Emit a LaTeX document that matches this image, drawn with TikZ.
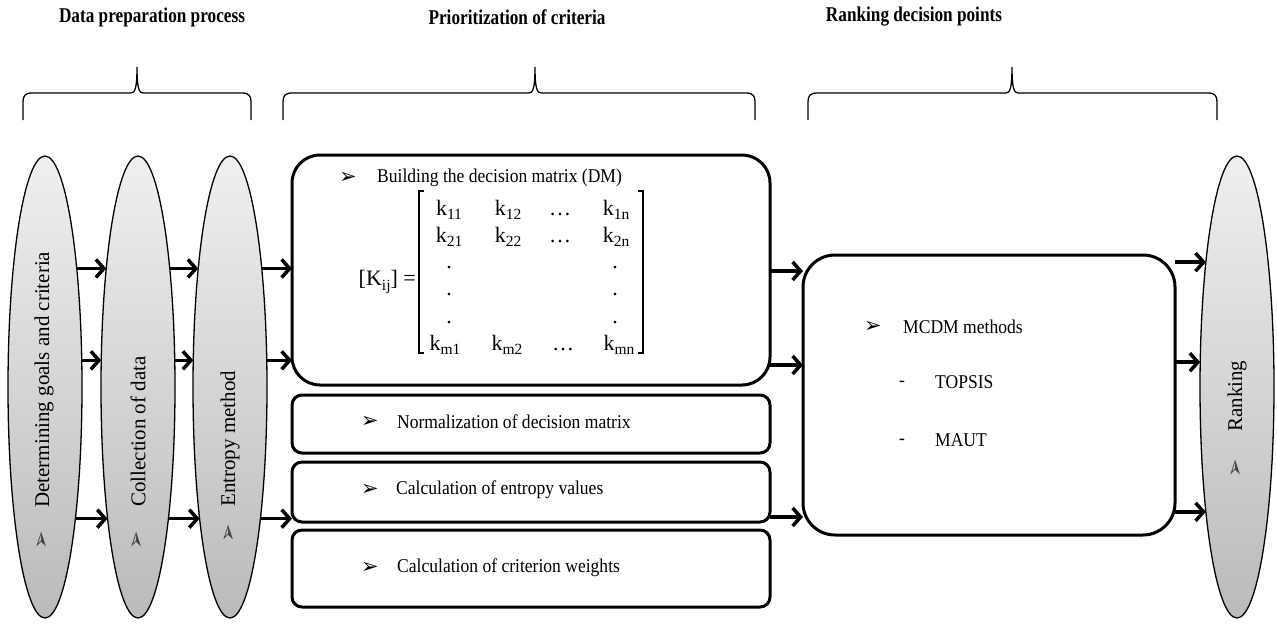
\documentclass[tikz,border=0pt]{standalone}
\usepackage{fontspec}
\setmainfont{Liberation Serif}[FakeStretch=0.9]
\newfontfamily\titlefont{Liberation Serif}[FakeStretch=0.82]
\newfontfamily\rotfont{Liberation Serif}
\newfontfamily\symfont{DejaVu Sans}
\usetikzlibrary{shapes.geometric,arrows.meta}
\newcommand\bracedraw[3]{%
  \draw[brc] (#1,120) -- (#1,102) .. controls (#1,96) and (#1+2,93) .. (#1+9,93)
    -- (#2-6,93) .. controls (#2-2,93) and (#2,88) .. (#2,67)
    .. controls (#2,88) and (#2+2,93) .. (#2+6,93)
    -- (#3-9,93) .. controls (#3-2,93) and (#3,96) .. (#3,102) -- (#3,120);}
\newcommand\ksb[2]{#1\raisebox{-4.5pt}{\fontsize{15.5}{17}\selectfont #2}}
\begin{document}
\begin{tikzpicture}[x=1pt,y=-1pt,
  ttl/.style={font=\titlefont\bfseries\fontsize{21}{24}\selectfont, inner sep=0pt},
  txt/.style={font=\fontsize{19.5}{23}\selectfont, inner sep=0pt, anchor=west},
  ent/.style={font=\rotfont\fontsize{22}{26}\selectfont, inner sep=0pt},
  bul/.style={font=\symfont\fontsize{21}{23}\selectfont, inner sep=0pt},
  ebul/.style={font=\symfont\fontsize{22}{24}\selectfont, inner sep=0pt, rotate=90, text=black!75},
  rot/.style={font=\rotfont\fontsize{21}{24}\selectfont, inner sep=0pt, rotate=90, anchor=west},
  oval/.style={ellipse, draw=black, line width=1.3pt, minimum width=74pt, minimum height=462pt,
    inner sep=0pt, outer sep=0pt, top color=black!6, bottom color=black!27},
  box/.style={draw=black, line width=3pt, inner sep=0pt, outer sep=0pt},
  arr/.style={line width=3.5pt, -{Straight Barb[length=8pt,width=18pt]}},
  brc/.style={line width=1.3pt},
  brk/.style={line width=1.5pt}]
\useasboundingbox (0,0) rectangle (1277,626);

% titles
\node[ttl] (T1) at (152,17) {Data preparation process};
\node[ttl] (T2) at (517,17) {Prioritization of criteria};
\node[ttl] (T3) at (914,17) {Ranking decision points};

% braces
\bracedraw{23}{137}{251}
\bracedraw{283}{535}{755}
\bracedraw{808}{1012}{1217}

% ellipses
\node[oval] (E1) at (45,387) {};
\node[oval] (E2) at (138,387) {};
\node[oval] (E3) at (230,387) {};
\node[oval] (R) at (1237,387) {};
\node[rot] (L1) at (44,508) {Determining goals and criteria};
\node[rot] (L2) at (138,507) {Collection of data};
\node[rot] (L3) at (230,507) {Entropy method};
\node[rot] (L4) at (1237,432) {Ranking};
\node[ebul] (a1) at (43,540) {➢};
\node[ebul] (a2) at (138,540) {➢};
\node[ebul] (a3) at (230,533) {➢};
\node[ebul] (a4) at (1237,468) {➢};

% middle boxes
\node[box, rounded corners=28pt, minimum width=478pt, minimum height=230pt] (B1) at (531,270) {};
\node[box, rounded corners=10pt, minimum width=478pt, minimum height=58pt] (B2) at (531,424) {};
\node[box, rounded corners=10pt, minimum width=478pt, minimum height=60pt] (B3) at (531,492) {};
\node[box, rounded corners=10pt, minimum width=478pt, minimum height=77pt] (B4) at (531,568.5) {};
\node[box, rounded corners=32pt, minimum width=372pt, minimum height=280pt] (M) at (989,395) {};

% box texts
\node[bul] (k0) at (348,178) {➢};
\node[txt] (t0) at (377,178) {Building the decision matrix (DM)};
\node[bul] (k1) at (370,422) {➢};
\node[txt] (t1) at (397,422) {Normalization of decision matrix};
\node[bul] (k2) at (370,490) {➢};
\node[txt] (t2) at (396,490) {Calculation of entropy values};
\node[bul] (k3) at (370,568) {➢};
\node[txt] (t3) at (397,568) {Calculation of criterion weights};
\node[bul] (k4) at (873,327) {➢};
\node[txt] (t4) at (903,327) {MCDM methods};
\node[txt] (d1) at (899,384) {-};
\node[txt] (t5) at (935,382) {TOPSIS};
\node[txt] (d2) at (899,442) {-};
\node[txt] (t6) at (935,440) {MAUT};

% matrix
\node[ent, anchor=east] (K) at (416,282) {[\ksb{K}{ij}] =};
\draw[brk] (424,191) -- (419,191) -- (419,353) -- (424,353);
\draw[brk] (638,191) -- (643,191) -- (643,353) -- (638,353);
\node[ent] (m11) at (449,210) {\ksb{k}{11}};
\node[ent] (m12) at (508,210) {\ksb{k}{12}};
\node[ent] (m13) at (560,215) {…};
\node[ent] (m14) at (616,210) {\ksb{k}{1n}};
\node[ent] (m21) at (449,237) {\ksb{k}{21}};
\node[ent] (m22) at (508,237) {\ksb{k}{22}};
\node[ent] (m23) at (560,242) {…};
\node[ent] (m24) at (616,237) {\ksb{k}{2n}};
\node[ent] (v1) at (449,268) {.};
\node[ent] (v2) at (449,295) {.};
\node[ent] (v3) at (449,323) {.};
\node[ent] (w1) at (615,268) {.};
\node[ent] (w2) at (615,295) {.};
\node[ent] (w3) at (615,323) {.};
\node[ent] (mm1) at (445,345) {\ksb{k}{m1}};
\node[ent] (mm2) at (507,345) {\ksb{k}{m2}};
\node[ent] (mm3) at (563,350) {…};
\node[ent] (mm4) at (619,345) {\ksb{k}{mn}};

% arrows between ellipses
\draw[arr] (E1.75) -- (E2.105);
\draw[arr] (E1.36) -- (E2.144);
\draw[arr] (E1.-77) -- (E2.-103);
\draw[arr] (E2.75) -- (E3.105);
\draw[arr] (E2.36) -- (E3.144);
\draw[arr] (E2.-77) -- (E3.-103);
\draw[arr] (E3.75) -- (E3.75 -| B1.west);
\draw[arr] (E3.36) -- (E3.36 -| B1.west);
\draw[arr] (E3.-77) -- (E3.-77 -| B3.west);

% arrows into MCDM
\coordinate (q1) at (780,271);
\coordinate (q2) at (780,365);
\coordinate (q3) at (780,517);
\draw[arr] (B1.east |- q1) -- (M.west |- q1);
\draw[arr] (B1.east |- q2) -- (M.west |- q2);
\draw[arr] (B3.east |- q3) -- (M.west |- q3);

% arrows into Ranking
\draw[arr] (M.east |- R.104) -- (R.104);
\draw[arr] (M.east |- R.146) -- (R.146);
\draw[arr] (M.east |- R.-104) -- (R.-104);
\end{tikzpicture}
\end{document}
